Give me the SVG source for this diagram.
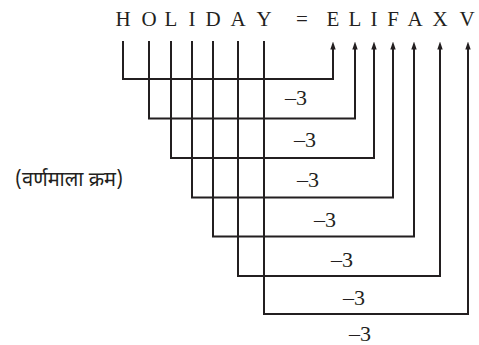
<svg xmlns="http://www.w3.org/2000/svg" width="479" height="345" viewBox="0 0 479 345">
<style>
.t{font-family:"Liberation Serif","Times New Roman",serif;font-size:21px;fill:#231f20;text-anchor:middle}
.n{font-family:"Liberation Serif","Times New Roman",serif;font-size:22px;fill:#231f20;text-anchor:middle}
.h{font-family:"Noto Sans Devanagari","Noto Sans","Liberation Sans",sans-serif;font-size:20px;fill:#231f20}
.c{fill:none;stroke:#231f20;stroke-width:2;stroke-linejoin:miter}
</style>
<defs>
<marker id="ah" viewBox="0 0 8 6" refX="2" refY="3" markerWidth="8" markerHeight="6" markerUnits="userSpaceOnUse" orient="auto">
<path d="M0,0.3 L8,3 L0,5.7 Z" fill="#231f20"/>
</marker>
</defs>
<g id="source-word">
<g id="src-H"><text class="t" x="123" y="26">H</text></g>
<g id="src-O"><text class="t" x="149" y="26">O</text></g>
<g id="src-L"><text class="t" x="171" y="26">L</text></g>
<g id="src-I"><text class="t" x="192" y="26">I</text></g>
<g id="src-D"><text class="t" x="213" y="26">D</text></g>
<g id="src-A"><text class="t" x="238" y="26">A</text></g>
<g id="src-Y"><text class="t" x="264" y="26">Y</text></g>
</g>
<g id="equals"><text class="t" x="302" y="26">=</text></g>
<g id="target-word">
<g id="dst-E"><text class="t" x="333" y="26">E</text></g>
<g id="dst-L"><text class="t" x="355" y="26">L</text></g>
<g id="dst-I"><text class="t" x="374" y="26">I</text></g>
<g id="dst-F"><text class="t" x="393" y="26">F</text></g>
<g id="dst-A"><text class="t" x="415" y="26">A</text></g>
<g id="dst-X"><text class="t" x="440" y="26">X</text></g>
<g id="dst-V"><text class="t" x="467" y="26">V</text></g>
</g>
<g id="connectors">
<path class="c" marker-end="url(#ah)" d="M123,41 V79 H333 V47.5"/>
<path class="c" marker-end="url(#ah)" d="M149,41 V118.5 H355 V47.5"/>
<path class="c" marker-end="url(#ah)" d="M171,41 V158 H374 V47.5"/>
<path class="c" marker-end="url(#ah)" d="M192,41 V197.5 H393 V47.5"/>
<path class="c" marker-end="url(#ah)" d="M213,41 V236.5 H414 V47.5"/>
<path class="c" marker-end="url(#ah)" d="M238,41 V276 H440 V47.5"/>
<path class="c" marker-end="url(#ah)" d="M264,41 V314 H468 V47.5"/>
</g>
<g id="labels">
<text class="n" x="296" y="105">–3</text>
<text class="n" x="305" y="147">–3</text>
<text class="n" x="308" y="187">–3</text>
<text class="n" x="325" y="227">–3</text>
<text class="n" x="342" y="267">–3</text>
<text class="n" x="354" y="305">–3</text>
<text class="n" x="360" y="341">–3</text>
</g>
<g id="note"><text class="h" x="15" y="186">(वर्णमाला क्रम)</text></g>
</svg>
